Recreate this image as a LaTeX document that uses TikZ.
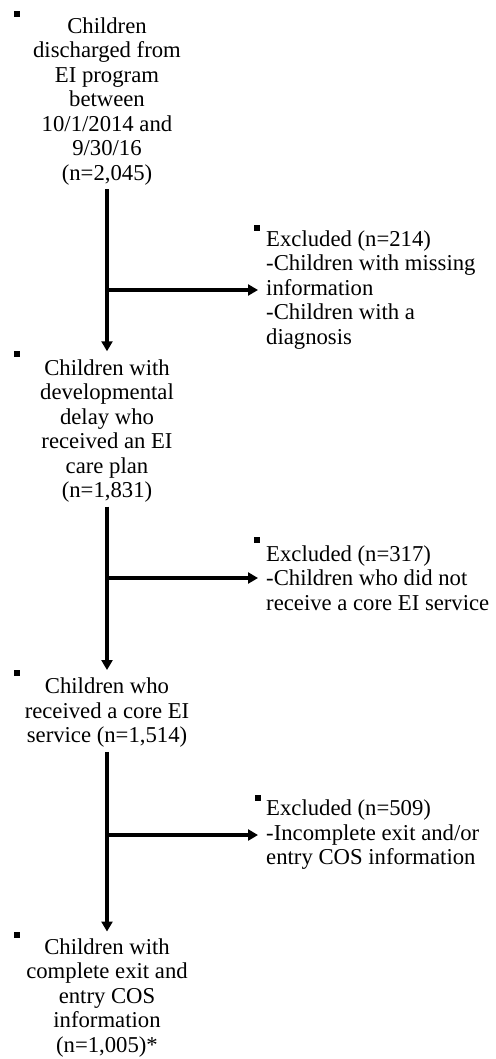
\documentclass[tikz,border=0pt]{standalone}
\usepackage{fontspec}
\setmainfont{Liberation Serif}
\usetikzlibrary{arrows.meta}
\tikzset{
  txt/.style={inner sep=0pt, font=\fontsize{22.7}{24.5}\selectfont},
  mainbox/.style={txt, align=center},
  exclbox/.style={txt, align=left, anchor=west},
  bul/.style={fill=black, rectangle, minimum size=6pt, inner sep=0pt},
  arr/.style={line width=3.3pt, -{Triangle[length=10pt,width=11pt]}},
}
\begin{document}
\begin{tikzpicture}[x=1pt,y=-1pt]
\useasboundingbox (0,0) rectangle (495,1059);
% main boxes
\node[mainbox] (n1) at (107,101.5) {Children\\discharged from\\EI program\\between\\10/1/2014 and\\9/30/16\\(n=2,045)};
\node[mainbox] (n2) at (107,431) {Children with\\developmental\\delay who\\received an EI\\care plan\\(n=1,831)};
\node[mainbox] (n3) at (107,713) {Children who\\received a core EI\\service (n=1,514)};
\node[mainbox] (n4) at (107,998) {Children with\\complete exit and\\entry COS\\information\\(n=1,005)*};
% excluded boxes
\node[exclbox] (e1) at (266,290) {Excluded (n=214)\\-Children with missing\\information\\-Children with a\\diagnosis};
\node[exclbox] (e2) at (266,578) {Excluded (n=317)\\-Children who did not\\receive a core EI service};
\node[exclbox] (e3) at (266,835) {Excluded (n=509)\\-Incomplete exit and/or\\entry COS information};
% bullets
\node[bul] (b1) at (17,14) {};
\node[bul] (b2) at (17,354) {};
\node[bul] (b3) at (17,673) {};
\node[bul] (b4) at (17,935) {};
\node[bul] (b5) at (257,228) {};
\node[bul] (b6) at (257,540) {};
\node[bul] (b7) at (258,798) {};
% spine arrows
\draw[arr, shorten <=4pt, shorten >=8pt] (n1.south) -- (n2.north);
\draw[arr, shorten <=4pt, shorten >=8pt] (n2.south) -- (n3.north);
\draw[arr, shorten <=4pt, shorten >=7pt] (n3.south) -- (n4.north);
% branches
\draw[arr, shorten >=8pt] (n1.south |- e1.west) -- (e1.west);
\draw[arr, shorten >=8pt] (n2.south |- e2.west) -- (e2.west);
\draw[arr, shorten >=8pt] (n3.south |- e3.west) -- (e3.west);
\end{tikzpicture}
\end{document}
